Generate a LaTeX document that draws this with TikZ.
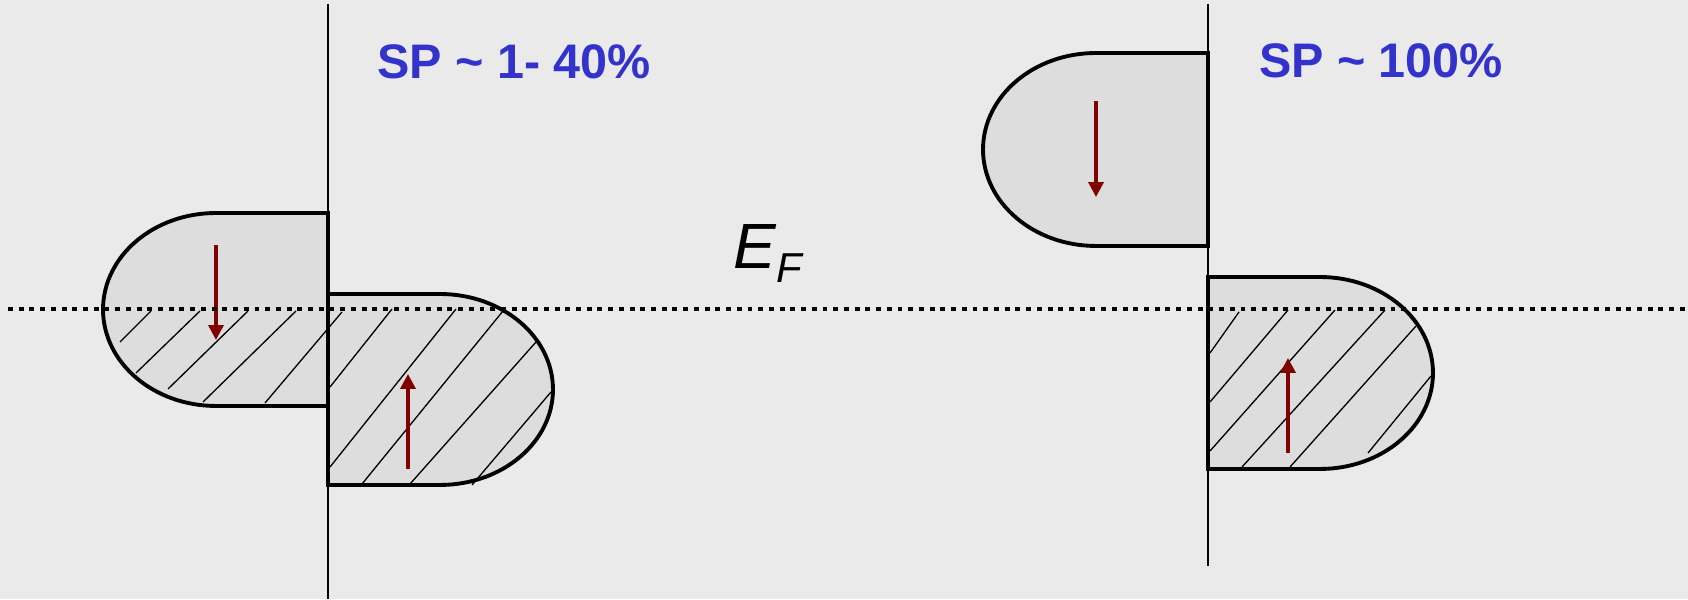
\documentclass[tikz,border=0pt]{standalone}
\usepackage{fontspec}
\setmainfont{Liberation Sans}
\usetikzlibrary{arrows.meta}
\definecolor{DOSbg}{HTML}{EAEAEA}
\definecolor{DOSfill}{HTML}{DDDDDD}
\definecolor{DOSblue}{HTML}{3333CC}
\definecolor{DOSspin}{HTML}{800000}
\tikzset{
  dosband/.style={draw=black, fill=DOSfill, line width=2.2pt},
  hatchline/.style={draw=black, line width=0.75pt},
  spinarrow/.style={-{Triangle[length=0.3cm, width=0.3cm]}, draw=DOSspin, line width=2pt},
  fermiline/.style={draw=black, line width=2.8pt, dash pattern=on 2.8pt off 3.3pt},
  interface/.style={draw=black, line width=1pt},
  splabel/.style={text=DOSblue, font=\fontsize{27.6}{30}\selectfont\bfseries, anchor=base, inner sep=0pt},
  eflabel/.style={font=\fontsize{36.4}{38}\selectfont\itshape, anchor=base west, inner sep=0pt}
}
\begin{document}
\begin{tikzpicture}[x=0.02cm, y=0.02cm]
  \fill[DOSbg] (0,0) rectangle (1688,599);
  \useasboundingbox (0,0) rectangle (1688,599);

  % left: SP ~ 1-40 %
  \draw[dosband] (328,386) -- (216,386)
    arc[start angle=90, end angle=270, x radius=2.26cm, y radius=1.93cm] -- (328,193) -- cycle;
  \draw[dosband] (328,305) -- (440,305)
    arc[start angle=90, end angle=-90, x radius=2.26cm, y radius=1.91cm] -- (328,114) -- cycle;
  \draw[hatchline] (120,257) -- (151,288);
  \draw[hatchline] (136,226) -- (200,288);
  \draw[hatchline] (168,210) -- (248,288);
  \draw[hatchline] (203,197) -- (296,288);
  \draw[hatchline] (265,196) -- (342,287);
  \draw[hatchline] (330,212) -- (392,290);
  \draw[hatchline] (330,132) -- (456,290);
  \draw[hatchline] (362,115) -- (503,288);
  \draw[hatchline] (410,115) -- (536,257);
  \draw[hatchline] (472,114) -- (551,207);
  \draw[spinarrow] (216,354) -- (216,259);
  \draw[spinarrow] (408,130) -- (408,225);

  % right: SP ~ 100 %
  \draw[dosband] (1208,546) -- (1096,546)
    arc[start angle=90, end angle=270, x radius=2.26cm, y radius=1.93cm] -- (1208,353) -- cycle;
  \draw[dosband] (1208,322) -- (1320,322)
    arc[start angle=90, end angle=-90, x radius=2.26cm, y radius=1.92cm] -- (1208,130) -- cycle;
  \draw[hatchline] (1210,246) -- (1239,287);
  \draw[hatchline] (1210,197) -- (1288,289);
  \draw[hatchline] (1210,148) -- (1335,289);
  \draw[hatchline] (1242,132) -- (1385,289);
  \draw[hatchline] (1290,132) -- (1416,273);
  \draw[hatchline] (1368,146) -- (1431,223);
  \draw[spinarrow] (1096,498) -- (1096,402);
  \draw[spinarrow] (1288,146) -- (1288,241);

  % interfaces and Fermi level
  \draw[interface] (328,595) -- (328,0);
  \draw[interface] (1208,595) -- (1208,33);
  \draw[fermiline] (8,290) -- (1688,290);

  \node[splabel] (splow) at (514,520) {SP \textasciitilde{} 1- 40\%};
  \node[splabel] (sphigh) at (1381,521) {SP \textasciitilde{} 100\%};
  \node[eflabel] (ef) at (733,330) {E\raisebox{-0.28cm}{\fontsize{23.8}{24}\selectfont F}};
\end{tikzpicture}
\end{document}
